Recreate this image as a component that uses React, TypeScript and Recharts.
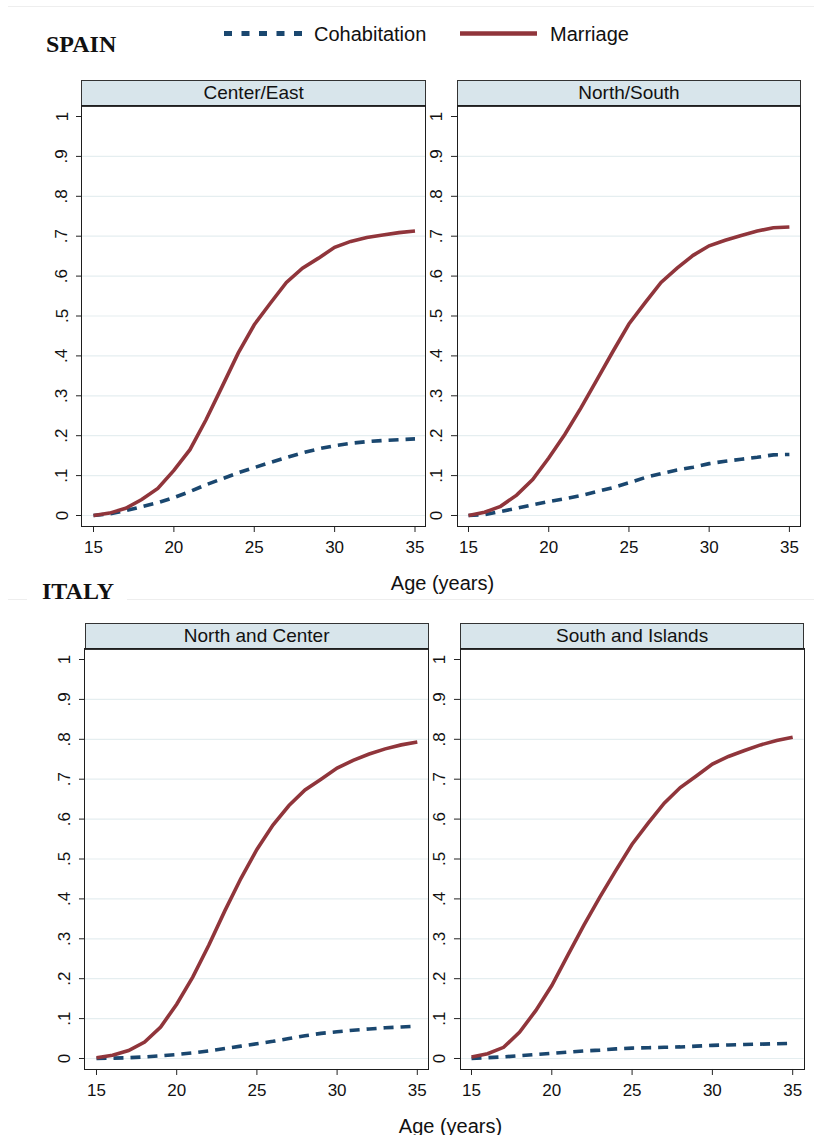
import React from 'react';
import { LineChart, Line, XAxis, YAxis, ReferenceLine } from 'recharts';

// ages on the x axis
const ages = [15, 16, 17, 18, 19, 20, 21, 22, 23, 24, 25, 26, 27, 28, 29, 30, 31, 32, 33, 34, 35];

// SPAIN
const spainCenterEastCohab = [0, 0.004, 0.012, 0.022, 0.032, 0.045, 0.06, 0.077, 0.092, 0.107, 0.12, 0.133, 0.145, 0.157, 0.167, 0.175, 0.181, 0.185, 0.188, 0.19, 0.192];
const spainCenterEastMarr = [0, 0.006, 0.018, 0.04, 0.068, 0.113, 0.165, 0.24, 0.323, 0.407, 0.478, 0.532, 0.584, 0.62, 0.645, 0.672, 0.687, 0.697, 0.703, 0.709, 0.713];
const spainNorthSouthCohab = [0, 0.002, 0.01, 0.018, 0.027, 0.035, 0.042, 0.05, 0.06, 0.07, 0.082, 0.095, 0.105, 0.114, 0.121, 0.13, 0.136, 0.141, 0.146, 0.152, 0.153];
const spainNorthSouthMarr = [0, 0.008, 0.023, 0.051, 0.09, 0.144, 0.203, 0.269, 0.34, 0.411, 0.48, 0.533, 0.584, 0.62, 0.652, 0.676, 0.69, 0.702, 0.713, 0.721, 0.723];

// ITALY
const italyNorthCenterCohab = [0, 0.001, 0.002, 0.004, 0.007, 0.01, 0.014, 0.019, 0.025, 0.031, 0.037, 0.043, 0.05, 0.057, 0.063, 0.067, 0.071, 0.074, 0.077, 0.079, 0.081];
const italyNorthCenterMarr = [0.002, 0.008, 0.02, 0.041, 0.079, 0.136, 0.204, 0.284, 0.37, 0.451, 0.524, 0.585, 0.634, 0.673, 0.7, 0.728, 0.747, 0.763, 0.776, 0.786, 0.793];
const italySouthIslandsCohab = [0, 0.002, 0.004, 0.007, 0.01, 0.013, 0.016, 0.019, 0.021, 0.024, 0.026, 0.027, 0.028, 0.029, 0.031, 0.033, 0.034, 0.035, 0.036, 0.037, 0.038];
const italySouthIslandsMarr = [0.004, 0.012, 0.028, 0.066, 0.12, 0.183, 0.259, 0.334, 0.405, 0.472, 0.537, 0.59, 0.64, 0.679, 0.708, 0.738, 0.757, 0.772, 0.786, 0.797, 0.805];

const xTicks = [15, 20, 25, 30, 35];
const yTicks = [0, 0.1, 0.2, 0.3, 0.4, 0.5, 0.6, 0.7, 0.8, 0.9, 1];
const yTickLabels = ['0', '.1', '.2', '.3', '.4', '.5', '.6', '.7', '.8', '.9', '1'];
const gridValues = [0, 0.1, 0.2, 0.3, 0.4, 0.5, 0.6, 0.7, 0.8, 0.9];

const seriesNames = { cohab: 'Cohabitation', marr: 'Marriage' };

const panels = [
  { title: 'Center/East', cohab: spainCenterEastCohab, marr: spainCenterEastMarr },
  { title: 'North/South', cohab: spainNorthSouthCohab, marr: spainNorthSouthMarr },
  { title: 'North and Center', cohab: italyNorthCenterCohab, marr: italyNorthCenterMarr },
  { title: 'South and Islands', cohab: italySouthIslandsCohab, marr: italySouthIslandsMarr },
];

// plot frames on the page
const boxes = [
  { x: 81.7, y: 106, w: 344, h: 420 },
  { x: 457.3, y: 106, w: 343.4, h: 420 },
  { x: 85, y: 649, w: 343.3, h: 420 },
  { x: 460.3, y: 649, w: 343.7, h: 420 },
];

const NAVY = '#1a476f';
const MAROON = '#90353b';
const SANS = '"Liberation Sans", Arial, Helvetica, sans-serif';
const SERIF = '"Liberation Serif", "Times New Roman", serif';

const ML = 50;
const MR = 4;
const MT = 4;
const MB = 40;

const YTick = (props: any) => {
  const { x, y, payload } = props;
  const i = yTicks.indexOf(payload.value);
  const label = i >= 0 ? yTickLabels[i] : String(payload.value);
  return (
    <text
      x={x}
      y={y}
      transform={`rotate(-90 ${x} ${y})`}
      textAnchor="middle"
      dominantBaseline="central"
      fontSize={17}
      fontFamily={SANS}
      fill="#111"
    >
      {label}
    </text>
  );
};

const Panel = ({ title, cohab, marr, box }: any) => {
  const rows = ages.map((age, i) => ({ age, cohab: cohab[i], marr: marr[i] }));
  return (
    <>
      <div
        style={{
          position: 'absolute',
          left: box.x - 0.5,
          top: box.y - 26,
          width: box.w + 1,
          height: 26.5,
          boxSizing: 'border-box',
          border: '1px solid #333',
          background: '#d8e5eb',
          fontFamily: SANS,
          fontSize: 19,
          lineHeight: '24px',
          textAlign: 'center',
          color: '#111',
        }}
      >
        {title}
      </div>
      <div style={{ position: 'absolute', left: box.x - ML, top: box.y - MT }}>
        <LineChart
          width={box.w + ML + MR}
          height={box.h + MT + MB}
          data={rows}
          margin={{ top: MT, right: MR, bottom: 0, left: 0 }}
        >
          <XAxis
            dataKey="age"
            type="number"
            domain={[15, 35]}
            ticks={xTicks}
            padding={{ left: 11.5, right: 11 }}
            height={MB}
            axisLine={false}
            tickLine={{ stroke: '#222' }}
            tickSize={6}
            tickMargin={9}
            tick={{ fontSize: 17, fill: '#111', fontFamily: SANS }}
          />
          <YAxis
            type="number"
            domain={[0, 1]}
            ticks={yTicks}
            padding={{ top: 10.5, bottom: 10.5 }}
            width={ML}
            axisLine={false}
            tickLine={{ stroke: '#222' }}
            tickSize={6}
            tickMargin={14}
            tick={<YTick />}
          />
          {gridValues.map((v) => (
            <ReferenceLine key={v} y={v} stroke="#e5eef0" strokeWidth={1.2} />
          ))}
          <Line
            dataKey="cohab"
            name={seriesNames.cohab}
            type="linear"
            stroke={NAVY}
            strokeWidth={3.6}
            strokeDasharray="10 7"
            dot={false}
            isAnimationActive={false}
          />
          <Line
            dataKey="marr"
            name={seriesNames.marr}
            type="linear"
            stroke={MAROON}
            strokeWidth={3.6}
            dot={false}
            isAnimationActive={false}
          />
        </LineChart>
      </div>
      <div
        style={{
          position: 'absolute',
          left: box.x - 0.75,
          top: box.y - 0.75,
          width: box.w + 1.5,
          height: box.h + 1.5,
          boxSizing: 'border-box',
          border: '1.5px solid #1e1e1e',
          pointerEvents: 'none',
        }}
      />
    </>
  );
};

export default function App() {
  return (
    <div
      style={{
        position: 'absolute',
        left: 0,
        top: 0,
        width: 814,
        height: 1135,
        background: '#fff',
        overflow: 'hidden',
      }}
    >
      <svg width={814} height={1135} style={{ position: 'absolute', left: 0, top: 0 }}>
        <line x1={8} y1={6.5} x2={814} y2={6.5} stroke="#eeeeee" strokeWidth={1} />
        <line x1={8} y1={599.5} x2={814} y2={599.5} stroke="#eeeeee" strokeWidth={1} />
        <rect x={27} y={588} width={100} height={16} fill="#fff" />

        <text x={46} y={52} fontFamily={SERIF} fontWeight="bold" fontSize={24} fill="#111">
          SPAIN
        </text>
        <text x={42} y={599} fontFamily={SERIF} fontWeight="bold" fontSize={24} fill="#111">
          ITALY
        </text>

        {/* legend */}
        <line x1={224} y1={33.5} x2={302} y2={33.5} stroke={NAVY} strokeWidth={5} strokeDasharray="8 9.5" />
        <text x={314} y={41} fontFamily={SANS} fontSize={20} fill="#111">
          {seriesNames.cohab}
        </text>
        <line x1={460} y1={33.5} x2={537} y2={33.5} stroke={MAROON} strokeWidth={4.5} />
        <text x={550} y={41} fontFamily={SANS} fontSize={20} fill="#111">
          {seriesNames.marr}
        </text>

        <text x={442.5} y={589.5} textAnchor="middle" fontFamily={SANS} fontSize={20} fill="#111">
          Age (years)
        </text>
        <text x={450.5} y={1132.5} textAnchor="middle" fontFamily={SANS} fontSize={20} fill="#111">
          Age (years)
        </text>
      </svg>
      {panels.map((p, i) => (
        <Panel key={p.title} title={p.title} cohab={p.cohab} marr={p.marr} box={boxes[i]} />
      ))}
    </div>
  );
}
